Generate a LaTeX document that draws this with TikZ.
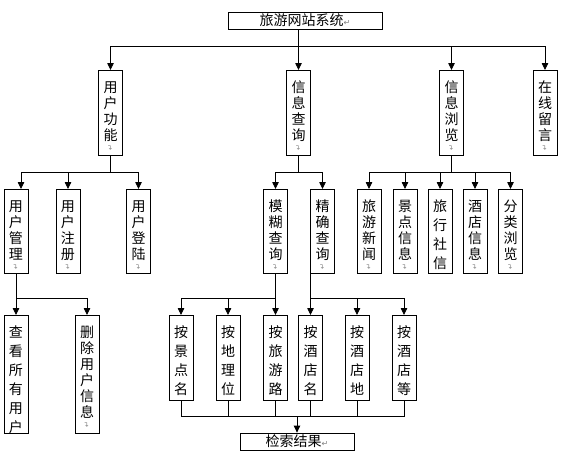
\documentclass[tikz,border=0pt]{standalone}
\usepackage{fontspec}
\usetikzlibrary{arrows.meta}
\newfontfamily\cjk{Noto Sans CJK SC}
\newfontfamily\markfont{DejaVu Sans}
% paragraph marks as the picture prints them
\newcommand{\pmark}{\\[-6pt]{\color{gray}\markfont\fontsize{7}{7}\selectfont\rotatebox{90}{↵}}}
\newcommand{\hmark}{{\color{gray}\markfont\fontsize{8}{8}\selectfont ↵}}
\tikzset{
        box/.style={draw=black, line width=0.8pt, inner sep=0pt, font=\cjk\fontsize{14}{16}\selectfont},
        hbox/.style={box, minimum height=17pt},
        vbox/.style={box, anchor=north, minimum width=24pt, text width=24pt, align=center,
                     inner ysep=3pt, text height=19pt},
        wide/.style={font=\cjk\fontsize{14}{19}\selectfont},
        link/.style={line width=0.8pt, draw=black},
        arr/.style={link, -{Triangle[width=6.5pt,length=7pt]}}
    }
\begin{document}
\begin{tikzpicture}[x=1pt, y=-1pt]
    \useasboundingbox (0,0) rectangle (584,456);
    % top
    \node[hbox, minimum width=154pt] (root) at (305,20.5) {旅游网站系统\hmark};
    \node[vbox, text depth=60pt] (yh) at (110.5,70) {用\\户\\功\\能\pmark};
    \node[vbox, text depth=60pt] (xc) at (298.5,70) {信\\息\\查\\询\pmark};
    \node[vbox, text depth=60pt] (xl) at (451.5,70) {信\\息\\浏\\览\pmark};
    \node[vbox, text depth=60pt] (zx) at (545,70) {在\\线\\留\\言\pmark};
    % second row
    \node[vbox, text depth=59pt] (gl) at (16,189) {用\\户\\管\\理\pmark};
    \node[vbox, text depth=59pt] (zc) at (68,189) {用\\户\\注\\册\pmark};
    \node[vbox, text depth=59pt] (dl) at (138.5,189) {用\\户\\登\\陆\pmark};
    \node[vbox, text depth=59pt] (mh) at (275.5,189) {模\\糊\\查\\询\pmark};
    \node[vbox, text depth=59pt] (jq) at (322.5,189) {精\\确\\查\\询\pmark};
    \node[vbox, text depth=59pt] (xw) at (369,189) {旅\\游\\新\\闻\pmark};
    \node[vbox, text depth=59pt] (jd) at (405,189) {景\\点\\信\\息\pmark};
    \node[vbox, wide, text depth=59pt] (lx) at (440,189) {旅\\行\\社\\信};
    \node[vbox, text depth=59pt] (jx) at (475,189) {酒\\店\\信\\息\pmark};
    \node[vbox, text depth=59pt] (fl) at (510.5,189) {分\\类\\浏\\览\pmark};
    % third row
    \node[vbox, wide, text depth=93pt] (ck) at (16,315) {查\\看\\所\\有\\用\\户};
    \node[vbox, text depth=93pt] (sc) at (87,315) {删\\除\\用\\户\\信\\息\pmark};
    \node[vbox, wide, text depth=60pt] (a1) at (181,315) {按\\景\\点\\名};
    \node[vbox, wide, text depth=60pt] (a2) at (228,315) {按\\地\\理\\位};
    \node[vbox, wide, text depth=60pt] (a3) at (275.5,315) {按\\旅\\游\\路};
    \node[vbox, wide, text depth=60pt] (a4) at (310.5,315) {按\\酒\\店\\名};
    \node[vbox, wide, text depth=60pt] (a5) at (357,315) {按\\酒\\店\\地};
    \node[vbox, wide, text depth=60pt] (a6) at (404,315) {按\\酒\\店\\等};
    \node[hbox, minimum width=114pt] (jg) at (297,441.5) {检索结果\hmark};

    % level 0 -> 1
    \coordinate (b0) at (298.5,46);
    \draw[arr] (root.south -| xc.north) -- (xc.north);
    \draw[arr] (b0) -| (yh.north);
    \draw[arr] (b0) -| (xl.north);
    \draw[arr] (b0) -| (zx.north);
    % user functions
    \coordinate (b1) at (110.5,172);
    \draw[link] (yh.south) -- (b1);
    \draw[arr] (b1) -| ([xshift=5pt]gl.north);
    \draw[arr] (b1) -| (zc.north);
    \draw[arr] (b1) -| (dl.north);
    \coordinate (b2) at (16,298);
    \draw[arr] (gl.south) -- (ck.north);
    \draw[arr] (b2) -| (sc.north);
    % query
    \coordinate (b3) at (298.5,172);
    \draw[link] (xc.south) -- (b3);
    \draw[arr] (b3) -| (mh.north);
    \draw[arr] (b3) -| (jq.north);
    \coordinate (b4) at (275.5,298);
    \draw[arr] (mh.south) -- (a3.north);
    \draw[arr] (b4) -| (a1.north);
    \draw[arr] (b4) -| (a2.north);
    \coordinate (b5) at (310.5,298);
    \draw[arr] (a4.north |- jq.south) -- (a4.north);
    \draw[arr] (b5) -| (a5.north);
    \draw[arr] (b5) -| (a6.north);
    % browse
    \coordinate (b6) at (451.5,172);
    \draw[link] (xl.south) -- (b6);
    \foreach \n in {xw,jd,lx,jx,fl}
        \draw[arr] (b6) -| (\n.north);
    % results
    \coordinate (b7) at (297,416);
    \draw[link] (a1.south) |- (a6.south |- b7) -- (a6.south);
    \foreach \n in {a2,a3,a4,a5}
        \draw[link] (\n.south) -- (\n.south |- b7);
    \draw[arr] (b7) -- (jg.north);
\end{tikzpicture}
\end{document}
